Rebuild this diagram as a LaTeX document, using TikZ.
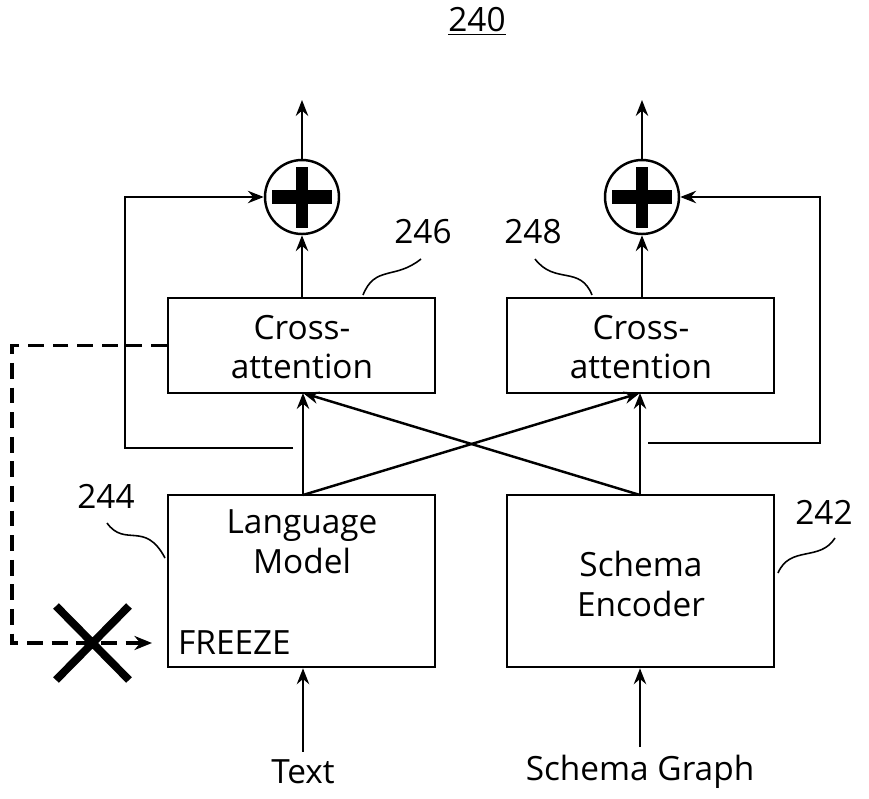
\documentclass[tikz,border=0pt]{standalone}
\usepackage{fontspec}
\setmainfont{Open Sans}
\usetikzlibrary{arrows.meta}
\tikzset{
    block/.style={draw, line width=1.5pt, minimum width=5.34cm, align=center, font=\fontsize{19}{22.5}\selectfont, inner sep=0pt},
    addnode/.style={draw, circle, line width=1.4pt, minimum size=1.48cm, inner sep=0pt},
    flow/.style={line width=1.4pt, -{Stealth[length=9pt, width=7pt]}},
    leader/.style={line width=0.9pt},
    refnum/.style={font=\fontsize{19}{22}\selectfont}
}
\begin{document}
\begin{tikzpicture}[x=0.02cm, y=-0.02cm]
    \useasboundingbox (0,0) rectangle (869,798);

    % Title
    \node[refnum] (title) at (477,21) {\underline{240}};

    % Boxes
    \node[block, minimum height=1.9cm] (crossL) at (301.5,345.5) {};
    \node[block, minimum height=1.9cm] (crossR) at (640.5,345.5) {};
    \node[block, minimum height=3.44cm] (lm) at (301.5,581) {};
    \node[block, minimum height=3.44cm] (enc) at (640.5,581) {};
    \node[block, draw=none] (crossLtxt) at (302,347) {Cross-\\attention};
    \node[block, draw=none] (crossRtxt) at (641,347) {Cross-\\attention};
    \node[block, draw=none] (lmtxt) at (302,542) {Language\\Model};
    \node[block, draw=none] (enctxt) at (641,584) {Schema\\Encoder};
    \node[refnum, anchor=west] (freeze) at (172,643) {FREEZE};

    % Adders
    \node[addnode] (addL) at (302,197) {};
    \node[addnode] (addR) at (642,197) {};
    \fill (addL.center) ++(-30,-7) rectangle ++(60,14);
    \fill (addL.center) ++(-6,-30) rectangle ++(12,61);
    \fill (addR.center) ++(-30,-7) rectangle ++(60,14);
    \fill (addR.center) ++(-6,-30) rectangle ++(12,61);

    % Inputs
    \node[refnum] (txt) at (303,772) {Text};
    \node[refnum] (graph) at (640,772) {Schema Graph};
    \draw[flow] (txt.north) ++(0,-2) -- (txt |- lm.south);
    \draw[flow] (graph.north) ++(0,-2) -- (graph |- enc.south);

    % Outputs
    \coordinate (outL) at (302,100);
    \coordinate (outR) at (642,100);
    \draw[flow] (addL) -- (outL);
    \draw[flow] (addR) -- (outR);
    \draw[flow] (crossL.north -| addL) -- (addL);
    \draw[flow] (crossR.north -| addR) -- (addR);

    % Cross connections
    \coordinate (lmTop) at (303,495);
    \coordinate (encTop) at (640,495);
    \coordinate (inL) at (303,393);
    \coordinate (inR) at (640,393);
    \draw[flow] (lmTop) -- (inL);
    \draw[flow] (lmTop) -- (inR);
    \draw[flow] (encTop) -- (inR);
    \draw[flow] (encTop) -- (inL);

    % Residual paths
    \draw[flow] (293,448) -- (125,448) |- (addL);
    \draw[flow] (648,443) -- (820,443) |- (addR);

    % Frozen feedback
    \draw[line width=2.2pt, dash pattern=on 9pt off 5pt, -{Stealth[length=10pt, width=8pt]}]
        (crossL.west) -- (12,345.5) |- (152,643);
    \draw[line width=4.5pt] (56,606) -- (129,680) (129,606) -- (56,680);

    % Reference numerals
    \node[refnum] (n246) at (423,232) {246};
    \node[refnum] (n248) at (533,232) {248};
    \node[refnum] (n244) at (106,496) {244};
    \node[refnum] (n242) at (824,512) {242};
    \draw[leader] (363,295) .. controls (375,265) and (395,280) .. (421,259);
    \draw[leader] (535,259) .. controls (555,285) and (580,265) .. (592,295);
    \draw[leader] (107,523) .. controls (125,548) and (145,520) .. (165,558);
    \draw[leader] (835,538) .. controls (820,562) and (790,545) .. (778,573);
\end{tikzpicture}
\end{document}
